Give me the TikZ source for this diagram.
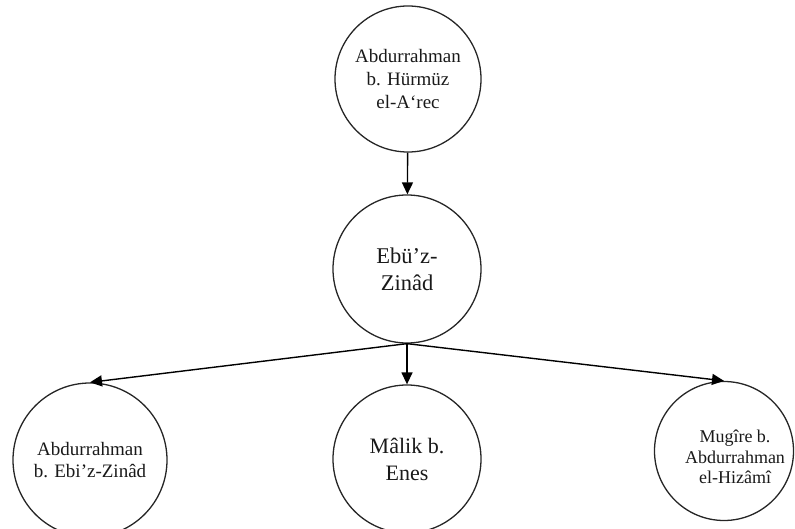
\documentclass[tikz,border=0pt]{standalone}
\usepackage{fontspec}
\setmainfont{Liberation Serif}
\usetikzlibrary{arrows.meta}
\begin{document}
\begin{tikzpicture}[x=1pt,y=-1pt,
  person/.style={circle,draw=black!85,line width=1.3pt,inner sep=0pt,align=center,text=black!90},
  label/.style={align=center,text=black!90,inner sep=0pt},
  link/.style={line width=1.4pt,-{Triangle[length=12pt,width=11pt]}}]
\useasboundingbox (0,0) rectangle (795,529);
\node[person,minimum size=146pt,font=\fontsize{19}{23}\selectfont] (top) at (408,79) {Abdurrahman\\b. Hürmüz\\el-A‘rec};
\node[person,minimum size=148pt,font=\fontsize{22.5}{27}\selectfont] (mid) at (407,269) {Ebü’z-\\Zinâd};
\node[person,minimum size=154pt,font=\fontsize{19}{22}\selectfont] (bl) at (90,460) {Abdurrahman\\b. Ebi’z-Zinâd};
\node[person,minimum size=148pt,font=\fontsize{22}{27}\selectfont] (bm) at (407,459) {Mâlik b.\\Enes};
\node[person,minimum size=139pt] (br) at (724,451) {};
\node[label,font=\fontsize{18}{20.5}\selectfont] (brt) at (735,457) {Mugîre b.\\Abdurrahman\\el-Hizâmî};
\draw[link] (top) -- (mid);
\draw[link] (mid.south) -- (bl.north);
\draw[link] (mid.south) -- (bm.north);
\draw[link] (mid.south) -- (br.north);
\end{tikzpicture}
\end{document}
